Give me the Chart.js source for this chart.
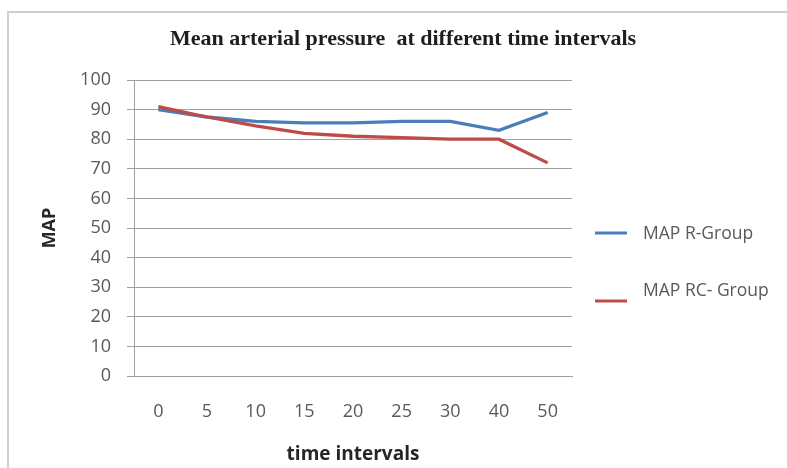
<!DOCTYPE html>
<html>
<head>
<meta charset="utf-8">
<script src="https://cdn.jsdelivr.net/npm/chart.js@4.4.1/dist/chart.umd.min.js"></script>
<style>
html,body{margin:0;padding:0;background:#fff;}
body{width:787px;height:468px;position:relative;overflow:hidden;}
#frame{position:absolute;left:7px;top:11px;width:800px;height:480px;border-left:2px solid #cfcfcf;border-top:2px solid #cfcfcf;}
#chart{position:absolute;left:0;top:0;}
</style>
</head>
<body>
<div id="frame"></div>
<canvas id="chart" width="787" height="468"></canvas>
<script>
const chartTitle = "Mean arterial pressure  at different time intervals";
const timeLabels = ["0","5","10","15","20","25","30","40","50"];
const mapR = [90, 87.5, 86, 85.5, 85.5, 86, 86, 83, 89];
const mapRC = [91, 87.5, 84.5, 82, 81, 80.5, 80, 80, 72];
const seriesNames = ["MAP R-Group", "MAP RC- Group"];
const seriesColors = ["#4a7ebb", "#be4b48"];

/* title + legend drawn on the canvas */
const extras = {
id: "extras",
afterDraw(chart){
const ctx = chart.ctx;
ctx.save();
ctx.fillStyle = "#1e1e1e";
ctx.font = "bold 22px 'Liberation Serif'";
ctx.textAlign = "center";
ctx.textBaseline = "middle";
ctx.fillText(chartTitle, 403, 39);

ctx.font = "17.5px 'Open Sans'";
ctx.textAlign = "left";
const rows = [{ly:233, ty:234},{ly:301, ty:291}];
chart.data.datasets.forEach((ds,i)=>{
ctx.strokeStyle = ds.borderColor;
ctx.lineWidth = 3;
ctx.beginPath();
ctx.moveTo(595, rows[i].ly);
ctx.lineTo(627, rows[i].ly);
ctx.stroke();
ctx.fillStyle = "#595959";
ctx.fillText(ds.label, 643, rows[i].ty);
});
ctx.restore();
}
};

new Chart(document.getElementById("chart"),{
type:"line",
data:{
labels:timeLabels,
datasets:[
{label:seriesNames[0], data:mapR, borderColor:seriesColors[0], backgroundColor:seriesColors[0], borderWidth:3.3, pointRadius:0, tension:0, order:2},
{label:seriesNames[1], data:mapRC, borderColor:seriesColors[1], backgroundColor:seriesColors[1], borderWidth:3.3, pointRadius:0, tension:0, order:1}
]
},
options:{
responsive:false,
animation:false,
devicePixelRatio:1,
layout:{padding:{top:80, left:37, right:215, bottom:0}},
plugins:{legend:{display:false}, tooltip:{enabled:false}, title:{display:false}},
scales:{
x:{
offset:true,
grid:{display:false, drawTicks:false},
border:{display:true, color:"#a0a0a0"},
ticks:{padding:25, color:"#595959", font:{family:"'Open Sans'", size:18}, maxRotation:0},
title:{display:true, text:"time intervals", color:"#262626", font:{family:"'Open Sans'", size:19, weight:"bold"}, padding:{top:4,bottom:2}},
afterFit:s=>{s.height = 92;}
},
y:{
min:0, max:100,
ticks:{stepSize:10, padding:16, color:"#595959", font:{family:"'Open Sans'", size:18}},
grid:{color:"#a0a0a0", tickLength:7, lineWidth:1},
border:{color:"#a0a0a0"},
title:{display:true, text:"MAP", color:"#262626", font:{family:"'Open Sans'", size:18, weight:"bold"}, padding:{top:2,bottom:4}},
afterFit:s=>{s.width = 97;}
}
}
},
plugins:[extras]
});
</script>
</body>
</html>
